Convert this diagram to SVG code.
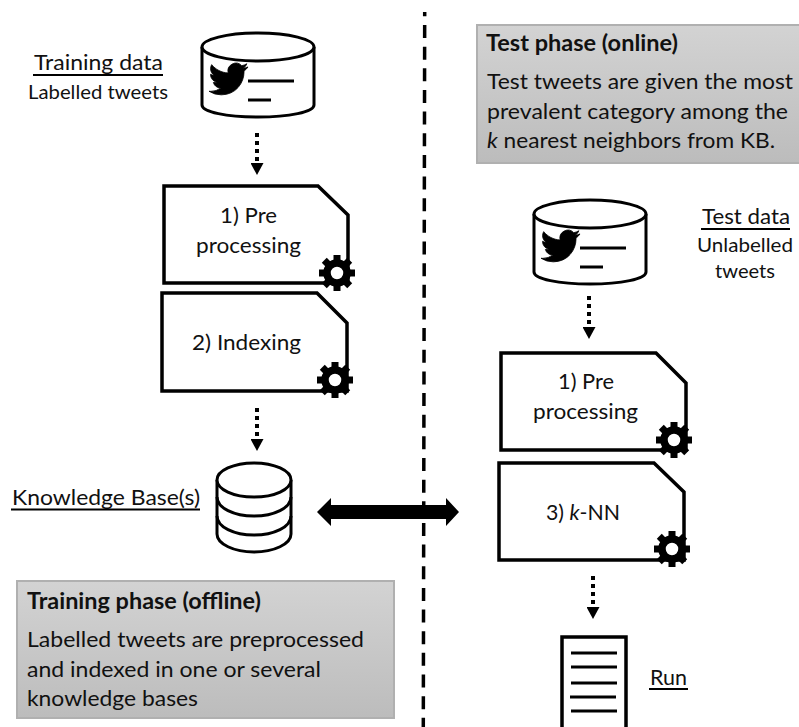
<svg xmlns="http://www.w3.org/2000/svg" xmlns:xlink="http://www.w3.org/1999/xlink" width="799" height="727" viewBox="0 0 799 727">
<style>
text{font-family:Lato,"Liberation Sans",sans-serif;font-size:22px;fill:#111}
.b{font-weight:700}
.i{font-style:italic}
.s{font-size:20px}
.o{fill:#fff;stroke:#000;stroke-width:3.5;stroke-linejoin:miter}
.y{fill:#fff;stroke:#000;stroke-width:3}
.n{fill:none;stroke:#000;stroke-width:3}
.l{fill:none;stroke:#000;stroke-width:3}
.u{stroke:#000;stroke-width:2}
.d{fill:none;stroke:#000;stroke-width:4;stroke-dasharray:4 4}
.p{fill:url(#gr);stroke:#b0b0b0;stroke-width:2}
</style>
<defs>
<linearGradient id="gr" x1="0" y1="0" x2="0" y2="1"><stop offset="0" stop-color="#d3d3d3"/><stop offset="1" stop-color="#bcbcbc"/></linearGradient>
<marker id="h" markerUnits="userSpaceOnUse" markerWidth="14" markerHeight="13" refX="0" refY="6.5" orient="auto"><path d="M0 0L12 6.5L0 13Z" fill="#000"/></marker>
<g id="gear">
<circle r="10" fill="#fff" stroke="#000" stroke-width="7.5"/>
<g fill="#000">
<rect x="-3.5" y="-18" width="7" height="7"/><rect x="-3.5" y="11" width="7" height="7"/>
<rect x="-18" y="-3.5" width="7" height="7"/><rect x="11" y="-3.5" width="7" height="7"/>
<rect x="-3.5" y="-18" width="7" height="7" transform="rotate(45)"/><rect x="-3.5" y="11" width="7" height="7" transform="rotate(45)"/>
<rect x="-18" y="-3.5" width="7" height="7" transform="rotate(45)"/><rect x="11" y="-3.5" width="7" height="7" transform="rotate(45)"/>
</g>
</g>
<path id="bird" d="M23.953 4.57a10 10 0 01-2.825.775 4.958 4.958 0 002.163-2.723c-.951.555-2.005.959-3.127 1.184a4.92 4.92 0 00-8.384 4.482C7.69 8.095 4.067 6.13 1.64 3.162a4.822 4.822 0 00-.666 2.475c0 1.71.87 3.213 2.188 4.096a4.904 4.904 0 01-2.228-.616v.06a4.923 4.923 0 003.946 4.827 4.996 4.996 0 01-2.212.085 4.936 4.936 0 004.604 3.417 9.867 9.867 0 01-6.102 2.105c-.39 0-.779-.023-1.17-.067a13.995 13.995 0 007.557 2.209c9.053 0 13.998-7.496 13.998-13.985 0-.21 0-.42-.015-.63A9.935 9.935 0 0024 4.59z" fill="#000" stroke="#000" stroke-width="0.5"/>
<g id="cyl">
<path class="y" d="M202 47V105C202 112 227 117 258 117S314 112 314 105V47"/>
<ellipse class="y" cx="258" cy="47" rx="56" ry="14"/>
<use xlink:href="#bird" href="#bird" transform="translate(209 59.5) scale(1.625)"/>
<path class="l" d="M248 81H294M248 100H271"/>
</g>
</defs>

<g id="connectors">
<line x1="424.7" y1="12" x2="423.3" y2="727" stroke="#000" stroke-width="3.5" stroke-dasharray="13 8.65" stroke-dashoffset="8.65"/>
<path class="d" d="M257 133V163" marker-end="url(#h)"/>
<path class="d" d="M257 408V439" marker-end="url(#h)"/>
<path class="d" d="M589 296V327" marker-end="url(#h)"/>
<path class="d" d="M593 576V607" marker-end="url(#h)"/>
<path id="kb-arrow" d="M317 512L331 498V505H446V498L459 512L446 526V519H331V526Z" fill="#000"/>
</g>

<g id="training-data">
<use xlink:href="#cyl" href="#cyl"/>
<text x="34" y="70" textLength="129" lengthAdjust="spacingAndGlyphs">Training data</text>
<line class="u" x1="33" y1="75" x2="163" y2="75"/>
<text class="s" x="28" y="99" textLength="140" lengthAdjust="spacingAndGlyphs">Labelled tweets</text>
</g>

<g id="preprocessing-train">
<path class="o" d="M164 186H318L348 215V283H164Z"/>
<text x="220" y="223" textLength="57" lengthAdjust="spacingAndGlyphs">1) Pre</text>
<text x="196" y="253" textLength="105" lengthAdjust="spacingAndGlyphs">processing</text>
<use xlink:href="#gear" href="#gear" transform="translate(337 273)"/>
</g>

<g id="indexing">
<path class="o" d="M162 293H317L347 323V391H162Z"/>
<text x="192" y="350" textLength="109" lengthAdjust="spacingAndGlyphs">2) Indexing</text>
<use xlink:href="#gear" href="#gear" transform="translate(335 380)"/>
</g>

<g id="knowledge-base">
<path class="y" d="M217 480V534C217 544 234 552 254 552S291 544 291 534V480"/>
<ellipse class="y" cx="254" cy="480" rx="37" ry="17"/>
<path class="n" d="M217 497C217 508 234 516 254 516S291 508 291 497M217 516C217 527 234 535 254 535S291 527 291 516"/>
<text x="12" y="505" textLength="188" lengthAdjust="spacingAndGlyphs">Knowledge Base(s)</text>
<line class="u" x1="11" y1="509.500" x2="200" y2="509.500"/>
</g>

<g id="training-phase">
<rect class="p" x="17" y="581" width="377" height="137"/>
<text class="b" x="27" y="609" textLength="234" lengthAdjust="spacingAndGlyphs">Training phase (offline)</text>
<text x="27" y="647" textLength="337" lengthAdjust="spacingAndGlyphs">Labelled tweets are preprocessed</text>
<text x="27" y="677" textLength="294" lengthAdjust="spacingAndGlyphs">and indexed in one or several</text>
<text x="27" y="706" textLength="171" lengthAdjust="spacingAndGlyphs">knowledge bases</text>
</g>

<g id="test-phase">
<rect class="p" x="477" y="25" width="323" height="138"/>
<text class="b" x="486" y="51" textLength="192" lengthAdjust="spacingAndGlyphs">Test phase (online)</text>
<text x="487" y="89" textLength="306" lengthAdjust="spacingAndGlyphs">Test tweets are given the most</text>
<text x="487" y="119" textLength="301" lengthAdjust="spacingAndGlyphs">prevalent category among the</text>
<text x="487" y="148" textLength="288" lengthAdjust="spacingAndGlyphs"><tspan class="i">k</tspan> nearest neighbors from KB.</text>
</g>

<g id="test-data">
<use xlink:href="#cyl" href="#cyl" transform="translate(332 167)"/>
<text x="702" y="224" textLength="88" lengthAdjust="spacingAndGlyphs">Test data</text>
<line class="u" x1="701" y1="229" x2="790" y2="229"/>
<text class="s" x="697" y="252" textLength="96" lengthAdjust="spacingAndGlyphs">Unlabelled</text>
<text class="s" x="715" y="278" textLength="60" lengthAdjust="spacingAndGlyphs">tweets</text>
</g>

<g id="preprocessing-test">
<path class="o" d="M501 353H656L686 383V450H501Z"/>
<text x="558" y="389" textLength="56" lengthAdjust="spacingAndGlyphs">1) Pre</text>
<text x="533" y="419" textLength="105" lengthAdjust="spacingAndGlyphs">processing</text>
<use xlink:href="#gear" href="#gear" transform="translate(674 440)"/>
</g>

<g id="knn">
<path class="o" d="M499 463H654L684 492V560H499Z"/>
<text x="546" y="520" textLength="74" lengthAdjust="spacingAndGlyphs">3) <tspan class="i">k</tspan>-NN</text>
<use xlink:href="#gear" href="#gear" transform="translate(672 549)"/>
</g>

<g id="run">
<path class="o" d="M562 729V637H626V729"/>
<path class="l" d="M571 653H617M571 667H617M571 683H617M570 697H616M571 711H617"/>
<text x="650" y="685" textLength="37" lengthAdjust="spacingAndGlyphs">Run</text>
<line class="u" x1="649" y1="689" x2="688" y2="689"/>
</g>
</svg>
